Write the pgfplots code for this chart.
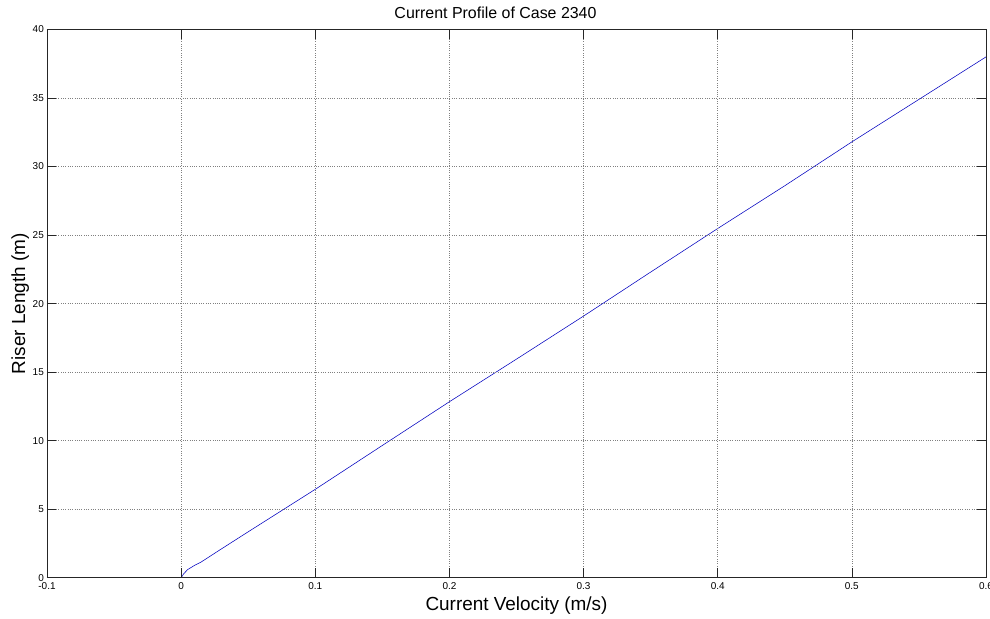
\documentclass[border=0pt]{standalone}
\usepackage{fontspec}
\setmainfont{Liberation Sans}
\usepackage{pgfplots}
\pgfplotsset{compat=1.18}
\begin{document}
\begin{tikzpicture}
\useasboundingbox (-47bp,-41.3bp) rectangle (943bp,577.7bp);
\begin{axis}[
  at={(0,0)}, anchor=south west,
  scale only axis, width=939bp, height=548.2bp,
  xmin=-0.1, xmax=0.6, ymin=0, ymax=40,
  xtick={-0.1,0,0.1,0.2,0.3,0.4,0.5,0.6},
  xticklabels={-0.1,0,0.1,0.2,0.3,0.4,0.5,0.6},
  ytick={0,5,10,15,20,25,30,35,40},
  yticklabels={0,5,10,15,20,25,30,35,40},
  tick pos=both, xticklabel pos=left, yticklabel pos=left,
  tick align=inside, major tick length=9.4bp,
  grid=major,
  major grid style={black!50, line width=0.5pt, dash pattern=on 0.6bp off 1.7bp},
  axis line style={black!85, line width=0.6pt},
  tick style={black!85, line width=0.7pt},
  axis on top,
  xticklabel style={font=\fontsize{10}{11}\selectfont, anchor=north, inner sep=0pt, yshift=-5bp},
  yticklabel style={font=\fontsize{10}{11}\selectfont, anchor=east, inner sep=0pt, xshift=-3bp},
  title={Current Profile of Case 2340},
  title style={font=\fontsize{16}{18}\selectfont, at={(axis description cs:0.5,1.0091)}, anchor=base, inner sep=0pt, xshift=-21bp},
  xlabel={Current Velocity (m/s)},
  xlabel style={font=\fontsize{19}{22}\selectfont, at={(axis description cs:0.5,-0.0607)}, anchor=base, inner sep=0pt},
  ylabel={Riser Length (m)},
  ylabel style={font=\fontsize{19}{22}\selectfont, at={(axis description cs:-0.0234,0.5)}, rotate=0, anchor=base, inner sep=0pt},
]
\addplot[blue!75!black, line width=0.55pt] coordinates {
(0,0) (0.002,0.3) (0.005,0.6) (0.01,0.9) (0.015,1.15) (0.03,2.1) (0.05,3.35)
(0.1,6.45) (0.15,9.65) (0.2,12.84) (0.25,15.95) (0.3,19.09) (0.35,22.3)
(0.4,25.48) (0.45,28.6) (0.5,31.8) (0.55,34.9) (0.6,38.0)
};
\end{axis}
\end{tikzpicture}
\end{document}
